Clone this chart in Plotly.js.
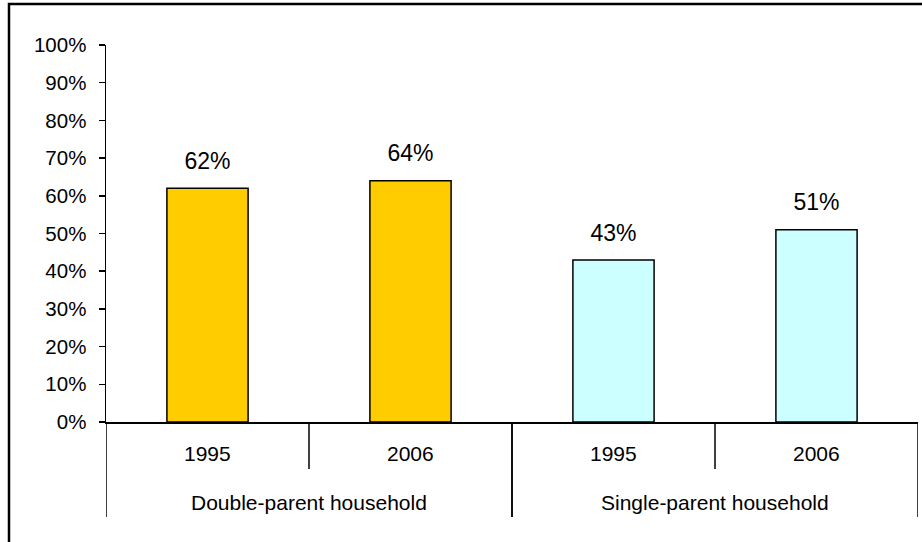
<!DOCTYPE html>
<html>
<head>
<meta charset="utf-8">
<script src="https://cdn.plot.ly/plotly-3.0.1.min.js"></script>
<style>html,body{margin:0;padding:0;background:#fff;}#chart{width:922px;height:542px;}</style>
</head>
<body>
<div id="chart"></div>
<script>
var groups = ["Double-parent household", "Double-parent household", "Single-parent household", "Single-parent household"];
var years = ["1995", "2006", "1995", "2006"];
var values = [0.62, 0.64, 0.43, 0.51];
var labels = ["62%", "64%", "43%", "51%"];
var colors = ["#FFCC00", "#FFCC00", "#CCFFFF", "#CCFFFF"];

var family = "Liberation Sans, Arial, sans-serif";
var tickFont = {family: family, size: 20.5, color: "#000"};
var catFont = {family: family, size: 21, color: "#000"};
var valFont = {family: family, size: 23, color: "#000"};

var xs = years.map(function (_, i) { return i; });
var plotH = 377;

var bars = {
  type: "bar",
  x: xs,
  y: values,
  marker: {color: colors, line: {color: "#000", width: 1.5}},
  hoverinfo: "skip"
};
var texts = {
  type: "scatter",
  mode: "markers+text",
  x: xs,
  y: values,
  text: labels,
  textposition: "top center",
  textfont: valFont,
  marker: {size: 20, color: "rgba(0,0,0,0)"},
  cliponaxis: false,
  hoverinfo: "skip"
};

var annotations = [];
var shapes = [];
// year labels
xs.forEach(function (x, i) {
  annotations.push({
    x: x, y: 0, xref: "x", yref: "paper", yanchor: "middle", yshift: -31,
    text: years[i], showarrow: false, font: catFont
  });
});
// group labels and group dividers
var uniqueGroups = [];
groups.forEach(function (g, i) {
  if (uniqueGroups.length === 0 || uniqueGroups[uniqueGroups.length - 1].name !== g) {
    uniqueGroups.push({name: g, start: i, end: i});
  } else {
    uniqueGroups[uniqueGroups.length - 1].end = i;
  }
});
uniqueGroups.forEach(function (g) {
  annotations.push({
    x: (g.start + g.end) / 2, y: 0, xref: "x", yref: "paper", yanchor: "middle", yshift: -80,
    text: g.name, showarrow: false, font: catFont
  });
  // short dividers inside group
  for (var i = g.start; i < g.end; i++) {
    shapes.push({type: "line", xref: "x", yref: "paper", x0: i + 0.5, x1: i + 0.5, y0: 0, y1: -47 / plotH,
      line: {color: "#000", width: 1.5}});
  }
  // long dividers at group edges
  shapes.push({type: "line", xref: "x", yref: "paper", x0: g.start - 0.5, x1: g.start - 0.5, y0: 0, y1: -95 / plotH,
    line: {color: "#000", width: 1.5}});
  shapes.push({type: "line", xref: "x", yref: "paper", x0: g.end + 0.5, x1: g.end + 0.5, y0: 0, y1: -95 / plotH,
    line: {color: "#000", width: 1.5}});
});
// outer chart border
shapes.push({
  type: "rect", xref: "paper", yref: "paper",
  x0: -97 / 812, x1: 1.1, y0: -0.4, y1: 1 + 41 / plotH,
  line: {color: "#000", width: 2.5}
});

var layout = {
  width: 922, height: 542,
  margin: {l: 106, r: 4, t: 45, b: 120},
  paper_bgcolor: "#fff", plot_bgcolor: "#fff",
  showlegend: false,
  bargap: 0.6,
  font: tickFont,
  xaxis: {
    range: [-0.5, xs.length - 0.5],
    showticklabels: false, ticks: "",
    showline: true, linecolor: "#000", linewidth: 1.5,
    showgrid: false, zeroline: false, fixedrange: true
  },
  yaxis: {
    range: [0, 1], dtick: 0.1, tickformat: ".0%",
    showline: true, linecolor: "#000", linewidth: 1.5,
    ticks: "outside", ticklen: 6, tickcolor: "#000", tickwidth: 1.5,
    ticklabelstandoff: 8,
    showgrid: false, zeroline: false,
    tickfont: tickFont
  },
  annotations: annotations,
  shapes: shapes
};

Plotly.newPlot("chart", [bars, texts], layout, {displayModeBar: false, staticPlot: true});
</script>
</body>
</html>
